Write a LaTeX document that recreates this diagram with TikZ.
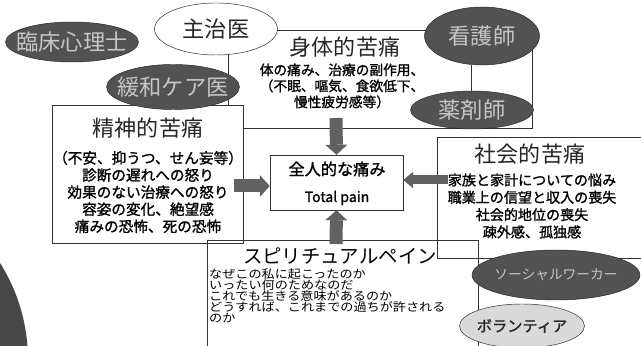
\documentclass[tikz,border=0pt]{standalone}
\usepackage{fontspec}
\setmainfont{Noto Sans CJK JP}
\newfontfamily\jpwide[FakeStretch=1.12]{Noto Sans CJK JP}
\newfontfamily\jpheavy[FakeBold=1.3]{Noto Sans CJK JP}
\usetikzlibrary{positioning,calc,arrows.meta,shapes.geometric,fit}

\begin{document}
\begin{tikzpicture}[x=0.03cm, y=-0.03cm,
  pain/.style={draw=black!80, inner sep=0pt},
  ttl/.style={font=\fontsize{18.8}{20}\selectfont, text=black!85},
  sz/.style n args={2}{minimum width=#1*0.03cm, minimum height=#2*0.03cm},
  role/.style={ellipse, draw=black!85, fill=black!68, inner sep=0pt},
  rolelab/.style={font=\fontsize{19}{19}\selectfont, text=gray!45},
  fat/.style={line width=0.39cm, draw=black!62,
              -{Triangle[width=0.66cm, length=0.3cm, line width=0pt]}},
  slim/.style={line width=0.27cm, draw=black!62,
              -{Triangle[width=0.5cm, length=0.3cm, line width=0pt]}}]
\clip (0,0) rectangle (641,346);
\fill[white] (0,0) rectangle (641,346);
% the four kinds of pain
\node[pain, fill=white, fit={(228,30)(532,128)}] (phys) {};
\node[pain, fill=white, fit={(52,105)(243,243)}] (ment) {};
\node[pain, fit={(437,137)(650,258)}] (soc) {};
\node[pain, fit={(207,240)(478,352)}] (spir) {};
\node[pain, fill=white, fit={(270,155)(403,210)}] (total) {};

\node[ttl] (phystitle) at (345,47) {身体的苦痛};
\node[align=center, font=\jpheavy\fontsize{11.7}{13.7}\selectfont] (physbody) at (342,86)
  {体の痛み、治療の副作用、\\（不眠、嘔気、食欲低下、\\慢性疲労感等）};
\node[ttl] (menttitle) at (148,128) {精神的苦痛};
\node[align=center, font=\jpheavy\fontsize{12.5}{14.6}\selectfont] (mentbody) at (148,192)
  {（不安、抑うつ、せん妄等）\\診断の遅れへの怒り\\効果のない治療への怒り\\容姿の変化、絶望感\\痛みの恐怖、死の恐怖};
\node[ttl] (soctitle) at (530,154) {社会的苦痛};
\node[align=center, font=\jpheavy\fontsize{12}{14.8}\selectfont] (socbody) at (532,206)
  {家族と家計についての悩み\\職業上の信望と収入の喪失\\社会的地位の喪失\\疎外感、孤独感};
\node[font=\fontsize{16.6}{17}\selectfont] (spirtitle) at (340,256) {スピリチュアルペイン};
\node[anchor=north west, align=left, inner sep=0pt,
      font=\jpwide\fontsize{10}{9.4}\selectfont] (spirbody) at (209,268)
  {なぜこの私に起こったのか\\いったい何のためなのだ\\これでも生きる意味があるのか\\どうすれば、これまでの過ちが許される\\のか};
\node[font=\jpheavy\fontsize{13.8}{14}\selectfont] (totaljp) at (337,169) {全人的な痛み};
\node[font=\jpheavy\fontsize{12}{14}\selectfont] (totalen) at (337,198) {Total pain};

% arrows into the centre
\coordinate (physout) at (336,118);
\coordinate (mentout) at (234,186);
\coordinate (socout) at (448,180);
\coordinate (spirout) at (336,244);
\draw[fat] (physout) -- (total.north);
\draw[fat] (mentout) -- (mentout -| total.west);
\draw[slim] (socout) -- (socout -| total.east);
\draw[fat] (spirout) -- (total.south);

% care team
\node[role, sz={133}{40}, label={[rolelab]center:臨床心理士}] (psy) at (72,42) {};
\node[role, sz={123}{52}, fill=white, label={[rolelab, text=black!85]center:主治医}] (doc) at (216,29) {};
\node[role, sz={133}{45}, label={[rolelab]center:緩和ケア医}] (kanwa) at (173,87) {};
\node[role, sz={115}{58}, label={[rolelab]center:看護師}] (nurse) at (482,36) {};
\node[role, sz={123}{38}, label={[rolelab]center:薬剤師}] (pharm) at (472,110) {};
\node[role, sz={168}{50}, label={[rolelab, font=\fontsize{11.7}{12}\selectfont]center:ソーシャルワーカー}] (sw) at (556,275) {};
\node[role, sz={125}{44}, fill=gray!30, label={[rolelab, text=black!85, font=\jpheavy\fontsize{13}{13}\selectfont]center:ボランティア}] (vol) at (522,326) {};
\node[circle, fill=black!72, minimum size=10.92cm] (blob) at (-154,360) {};
\draw[black!80] (nurse.250) -- (nurse.250 |- pharm.north);
\end{tikzpicture}
\end{document}
